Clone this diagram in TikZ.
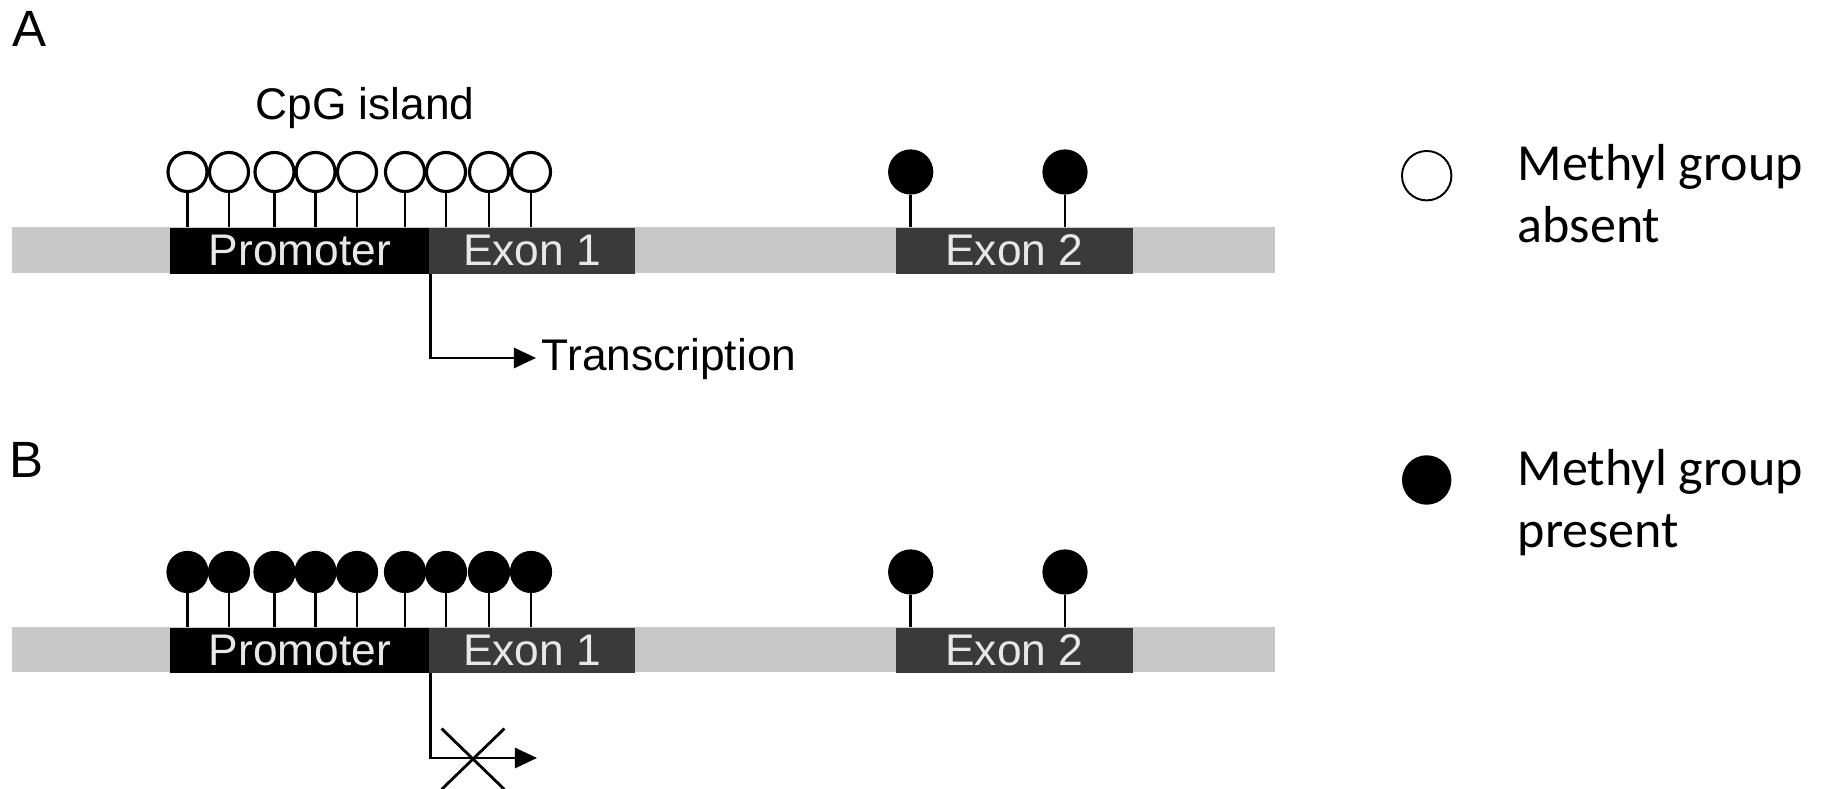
\documentclass[tikz,border=0pt]{standalone}
\usepackage{fontspec}
\setmainfont{Liberation Sans}
\newfontfamily\legendfont{Carlito}
\usetikzlibrary{arrows.meta,shapes.misc,positioning}

\definecolor{chromgray}{RGB}{200,200,200}
\definecolor{exongray}{RGB}{58,58,58}
\definecolor{boxtext}{RGB}{232,232,232}

\tikzset{
  region/.style={anchor=north west, minimum height=0.46cm, inner sep=0pt,
    text=boxtext, font=\fontsize{12.6}{15}\selectfont},
  promoter/.style={region, fill=black, minimum width=2.59cm},
  exon/.style={region, fill=exongray},
  cpg/.style={circle, draw, line width=0.9pt, fill=white, minimum size=0.39cm, inner sep=0pt},
  mcpg/.style={cpg, fill=black},
  stem/.style={line width=0.8pt},
  tx/.style={line width=0.8pt, -{Triangle[length=0.22cm,width=0.2cm]}},
  lbl/.style={inner sep=0pt, font=\fontsize{12.6}{15}\selectfont},
  panel/.style={inner sep=0pt, anchor=base west, font=\fontsize{14.5}{17}\selectfont},
  legtext/.style={inner sep=0pt, anchor=base west, align=left,
    font=\legendfont\fontsize{14.8}{17.9}\selectfont},
}

\begin{document}
\begin{tikzpicture}[x=0.01cm, y=-0.01cm]
  \useasboundingbox (0,0) rectangle (1829,789);

  % panel A
  \node[panel] (labA) at (12,47) {A};
  \node[lbl, anchor=base] (cpgLab) at (365,120) {CpG island};
  \fill[chromgray] (12,227) rectangle (1275,273);
  \node[promoter] (promA) at (169.6,227) {Promoter};
  \node[exon, minimum width=2.054cm] (ex1A) at (428.6,227) {Exon 1};
  \node[exon, minimum width=2.37cm] (ex2A) at (895,227) {Exon 2};
  \foreach \cx [count=\i] in {187.5,229,274.5,315.6,357,405,446,489,531} {
    \node[cpg] (cA\i) at (\cx,172) {};
    \draw[stem] (cA\i.south) -- (cA\i |- promA.north);
  }
  \foreach \cx [count=\i] in {910.7,1065} {
    \node[mcpg, minimum size=0.42cm] (eA\i) at (\cx,172) {};
    \draw[stem] (eA\i.south) -- (eA\i |- ex2A.north);
  }
  \node[lbl, anchor=west, inner xsep=1.5pt, text height=0.72em, text depth=0pt]
    (transA) at (536,358) {Transcription};
  \draw[tx] (promA.south east) |- (transA.west);

  % panel B
  \node[panel] (labB) at (9,478) {B};
  \fill[chromgray] (12,627) rectangle (1275,672);
  \node[promoter, minimum height=0.45cm] (promB) at (169.6,627) {Promoter};
  \node[exon, minimum height=0.45cm, minimum width=2.054cm] (ex1B) at (428.6,627) {Exon 1};
  \node[exon, minimum height=0.45cm, minimum width=2.37cm] (ex2B) at (895,627) {Exon 2};
  \foreach \cx [count=\i] in {187.5,229,274.5,315.6,357,405,446,489,531} {
    \node[mcpg] (cB\i) at (\cx,572) {};
    \draw[stem] (cB\i.south) -- (cB\i |- promB.north);
  }
  \foreach \cx [count=\i] in {910.7,1065} {
    \node[mcpg, minimum size=0.42cm] (eB\i) at (\cx,572) {};
    \draw[stem] (eB\i.south) -- (eB\i |- ex2B.north);
  }
  \coordinate (endB) at (537,758);
  \draw[tx] (promB.south east) |- (endB);
  \node[cross out, draw, line width=0.8pt, minimum width=0.6cm, minimum height=0.58cm]
    (blockB) at (473,759) {};

  % legend
  \node[circle, draw, line width=0.55pt, minimum size=0.494cm, inner sep=0pt]
    (legOpen) at (1426.7,175.7) {};
  \node[legtext] (legAbs) at (1517,243) {Methyl group\\absent};
  \node[circle, fill=black, minimum size=0.494cm, inner sep=0pt]
    (legFull) at (1426.7,480) {};
  \node[legtext] (legPres) at (1517,548) {Methyl group\\present};
\end{tikzpicture}
\end{document}
